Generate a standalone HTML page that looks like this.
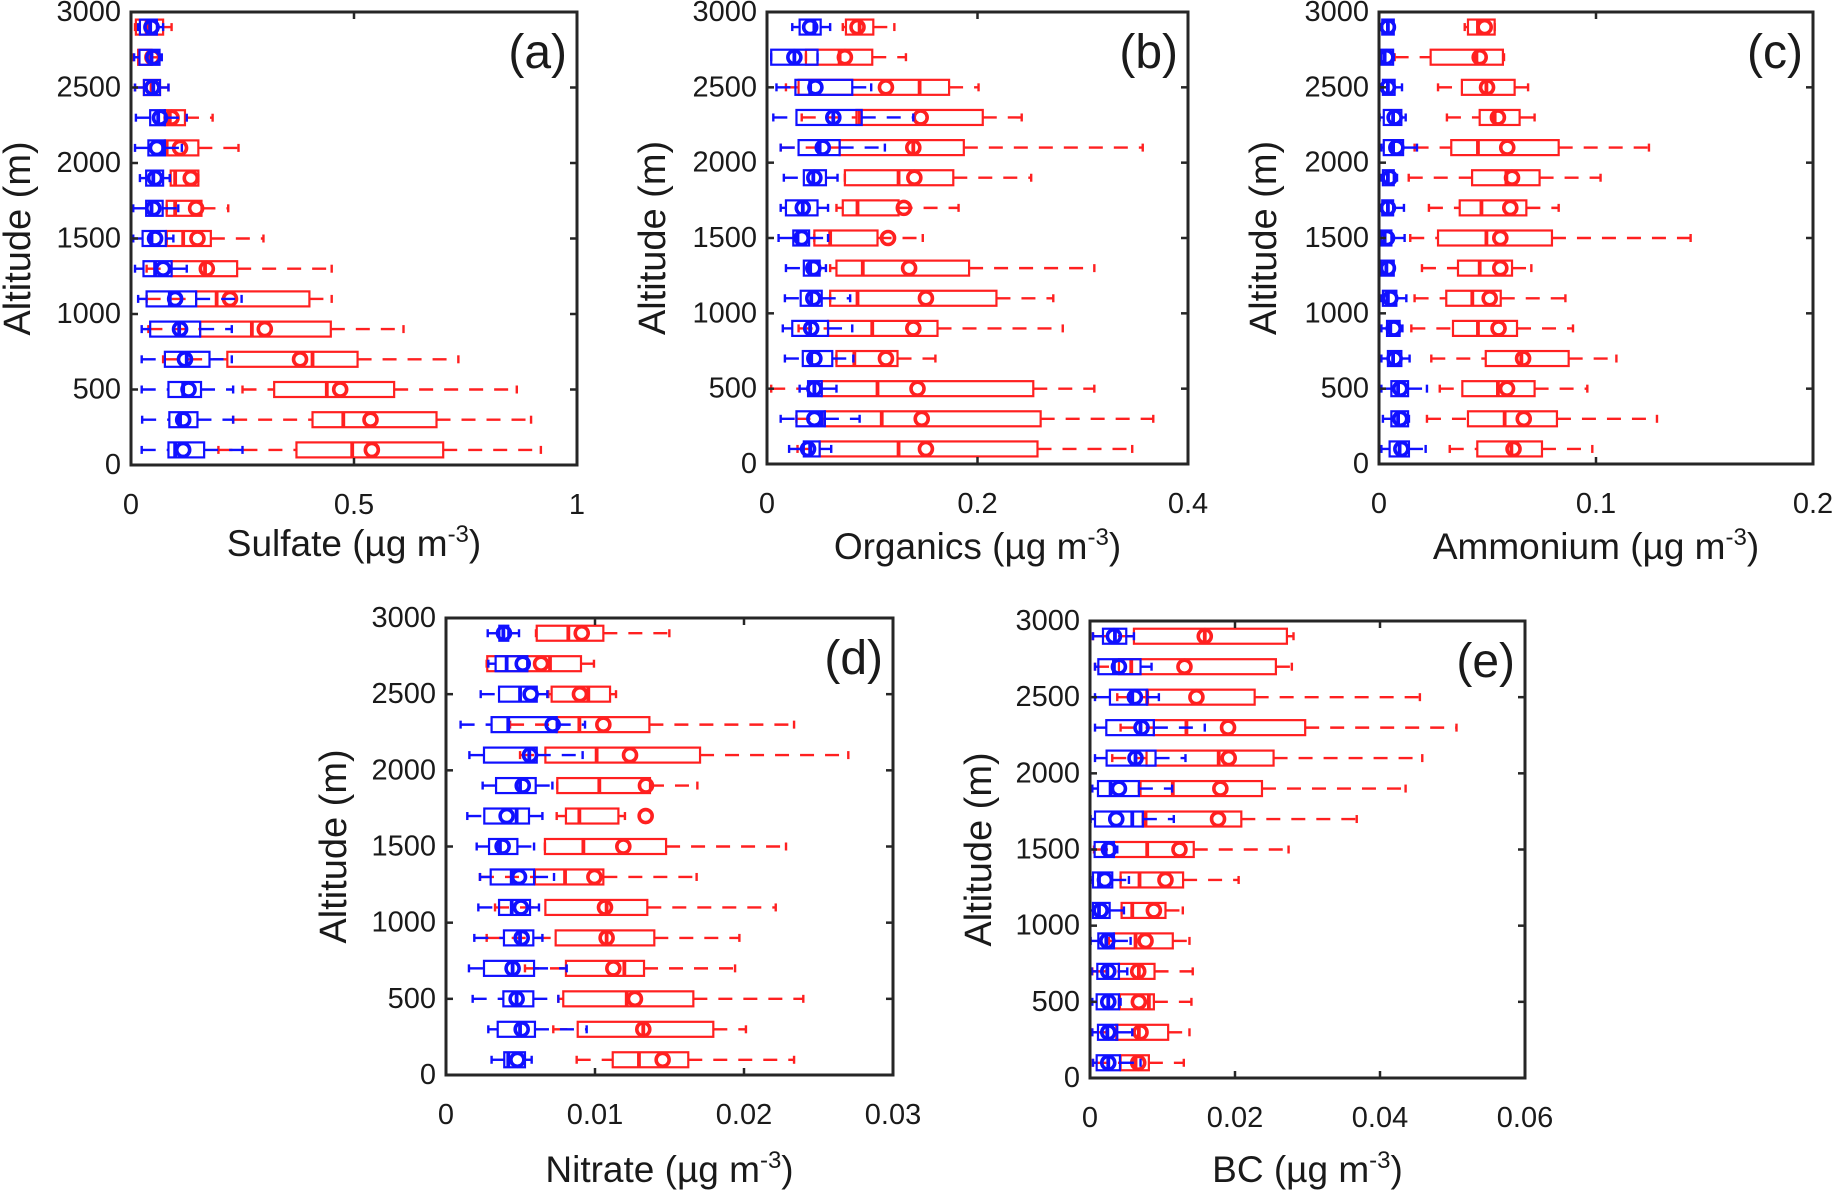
<!DOCTYPE html>
<html><head><meta charset="utf-8">
<style>
html,body{margin:0;padding:0;background:#fff;}
svg{display:block;}
text{font-family:"Liberation Sans",Arial,sans-serif;fill:#1a1a1a;}
</style></head>
<body>
<svg id="fig" width="1838" height="1190" viewBox="0 0 1838 1190" xmlns="http://www.w3.org/2000/svg"></svg>
<script>
// Altitude bins (m), bottom to top
const altitudes = [100,300,500,700,900,1100,1300,1500,1700,1900,2100,2300,2500,2700,2900];
const yTicks = [0,500,1000,1500,2000,2500,3000];
// each row: [whiskerLow, q1, median, q3, whiskerHigh, mean]
const sulfateBlue = [[0.024,0.084,0.099,0.164,0.250,0.117],[0.025,0.086,0.110,0.149,0.229,0.117],[0.024,0.084,0.117,0.157,0.229,0.129],[0.024,0.076,0.125,0.176,0.226,0.121],[0.024,0.043,0.108,0.155,0.226,0.110],[0.016,0.035,0.087,0.146,0.248,0.099],[0.009,0.028,0.054,0.091,0.125,0.072],[0.005,0.026,0.046,0.078,0.095,0.054],[0.005,0.034,0.046,0.071,0.106,0.050],[0.020,0.034,0.050,0.072,0.087,0.054],[0.009,0.039,0.072,0.076,0.114,0.058],[0.011,0.043,0.061,0.076,0.125,0.065],[0.009,0.029,0.050,0.065,0.084,0.048],[0.007,0.019,0.046,0.064,0.069,0.050],[0.016,0.020,0.043,0.058,0.072,0.046]];
const sulfateRed = [[0.196,0.371,0.496,0.700,0.919,0.540],[0.229,0.407,0.476,0.685,0.897,0.537],[0.250,0.321,0.439,0.590,0.865,0.469],[0.072,0.216,0.407,0.508,0.734,0.379],[0.039,0.155,0.271,0.448,0.611,0.300],[0.035,0.146,0.192,0.400,0.450,0.222],[0.035,0.091,0.166,0.238,0.450,0.170],[0.080,0.080,0.117,0.179,0.297,0.149],[0.080,0.080,0.099,0.158,0.218,0.146],[0.087,0.089,0.099,0.151,0.151,0.134],[0.072,0.076,0.080,0.151,0.241,0.110],[0.076,0.076,0.087,0.121,0.183,0.091],[0.009,0.029,0.046,0.065,0.084,0.048],[0.005,0.016,0.043,0.046,0.061,0.048],[0.009,0.011,0.035,0.072,0.091,0.046]];
const organicsBlue = [[0.021,0.035,0.041,0.050,0.061,0.039],[0.013,0.028,0.052,0.055,0.088,0.045],[0.031,0.039,0.045,0.052,0.066,0.045],[0.017,0.034,0.042,0.062,0.082,0.045],[0.015,0.024,0.041,0.058,0.081,0.042],[0.017,0.032,0.042,0.052,0.079,0.044],[0.018,0.035,0.041,0.050,0.056,0.044],[0.011,0.025,0.029,0.040,0.058,0.033],[0.013,0.018,0.034,0.048,0.058,0.034],[0.016,0.035,0.044,0.056,0.067,0.045],[0.013,0.030,0.050,0.069,0.112,0.053],[0.006,0.028,0.063,0.090,0.139,0.063],[0.009,0.027,0.041,0.081,0.099,0.046],[0.004,0.004,0.026,0.048,0.048,0.026],[0.024,0.031,0.045,0.051,0.060,0.041]];
const organicsRed = [[0.029,0.050,0.125,0.257,0.347,0.151],[0.028,0.055,0.109,0.260,0.367,0.147],[0.004,0.052,0.105,0.253,0.311,0.143],[0.066,0.066,0.083,0.124,0.160,0.113],[0.030,0.058,0.100,0.162,0.281,0.139],[0.060,0.060,0.086,0.218,0.272,0.151],[0.060,0.066,0.091,0.192,0.311,0.135],[0.045,0.045,0.060,0.105,0.148,0.115],[0.066,0.072,0.086,0.125,0.182,0.130],[0.074,0.074,0.125,0.177,0.251,0.140],[0.013,0.069,0.139,0.187,0.357,0.139],[0.033,0.085,0.088,0.205,0.242,0.146],[0.018,0.030,0.145,0.173,0.201,0.113],[0.037,0.037,0.069,0.100,0.132,0.074],[0.072,0.075,0.088,0.101,0.121,0.086]];
const ammoniumBlue = [[0.0011,0.0049,0.0095,0.0138,0.0215,0.0103],[0.0018,0.0057,0.0088,0.0134,0.0138,0.0098],[0.0011,0.0057,0.0088,0.0134,0.0221,0.0098],[0.0011,0.0041,0.0065,0.0103,0.0141,0.0072],[0.0011,0.0037,0.0052,0.0095,0.0108,0.0068],[0.0011,0.0018,0.0041,0.0080,0.0126,0.0052],[0.0003,0.0011,0.0034,0.0068,0.0068,0.0041],[0.0003,0.0011,0.0026,0.0057,0.0118,0.0037],[0.0011,0.0015,0.0041,0.0065,0.0115,0.0041],[0.0011,0.0018,0.0041,0.0068,0.0083,0.0049],[0.0011,0.0022,0.0065,0.0111,0.0175,0.0080],[0.0003,0.0022,0.0065,0.0103,0.0123,0.0072],[0.0011,0.0018,0.0041,0.0072,0.0106,0.0041],[0.0003,0.0011,0.0026,0.0065,0.0068,0.0034],[0.0011,0.0015,0.0041,0.0068,0.0068,0.0041]];
const ammoniumRed = [[0.0326,0.0453,0.0610,0.0751,0.0983,0.0620],[0.0221,0.0410,0.0579,0.0820,0.1281,0.0667],[0.0280,0.0384,0.0548,0.0717,0.0960,0.0590],[0.0241,0.0492,0.0656,0.0874,0.1094,0.0664],[0.0149,0.0341,0.0456,0.0636,0.0894,0.0551],[0.0164,0.0310,0.0430,0.0561,0.0859,0.0510],[0.0198,0.0364,0.0464,0.0613,0.0702,0.0559],[0.0144,0.0272,0.0495,0.0797,0.1436,0.0559],[0.0230,0.0372,0.0472,0.0679,0.0828,0.0605],[0.0137,0.0429,0.0587,0.0740,0.1021,0.0613],[0.0164,0.0333,0.0456,0.0828,0.1244,0.0591],[0.0313,0.0464,0.0533,0.0648,0.0717,0.0548],[0.0272,0.0382,0.0495,0.0625,0.0687,0.0498],[0.0072,0.0238,0.0449,0.0571,0.0576,0.0464],[0.0395,0.0410,0.0456,0.0533,0.0533,0.0487]];
const nitrateBlue = [[0.00306,0.00391,0.00418,0.00530,0.00575,0.00479],[0.00284,0.00347,0.00497,0.00597,0.00944,0.00508],[0.00179,0.00385,0.00474,0.00586,0.00754,0.00474],[0.00154,0.00255,0.00447,0.00591,0.00810,0.00447],[0.00190,0.00389,0.00497,0.00586,0.00647,0.00508],[0.00217,0.00356,0.00441,0.00564,0.00624,0.00503],[0.00228,0.00300,0.00441,0.00591,0.00725,0.00490],[0.00206,0.00289,0.00362,0.00479,0.00591,0.00380],[0.00143,0.00257,0.00474,0.00557,0.00647,0.00407],[0.00246,0.00336,0.00497,0.00602,0.00714,0.00515],[0.00157,0.00255,0.00559,0.00609,0.00917,0.00564],[0.00098,0.00306,0.00418,0.00743,0.00933,0.00716],[0.00233,0.00356,0.00497,0.00609,0.00680,0.00568],[0.00284,0.00333,0.00407,0.00546,0.00546,0.00515],[0.00280,0.00358,0.00385,0.00418,0.00490,0.00389]];
const nitrateRed = [[0.00877,0.01119,0.01295,0.01626,0.02336,0.01454],[0.00720,0.00884,0.01324,0.01794,0.02013,0.01324],[0.00754,0.00787,0.01213,0.01660,0.02398,0.01268],[0.00530,0.00805,0.01197,0.01329,0.01940,0.01123],[0.00273,0.00736,0.01078,0.01398,0.01969,0.01078],[0.00329,0.00667,0.01078,0.01351,0.02213,0.01067],[0.00228,0.00597,0.00799,0.01056,0.01682,0.00996],[0.00664,0.00664,0.00922,0.01477,0.02282,0.01190],[0.00743,0.00805,0.00895,0.01157,0.01201,0.01340],[0.00747,0.00747,0.01029,0.01369,0.01687,0.01342],[0.00497,0.00667,0.01011,0.01705,0.02700,0.01235],[0.00430,0.00743,0.00895,0.01365,0.02336,0.01056],[0.00687,0.00709,0.00955,0.01101,0.01141,0.00899],[0.00273,0.00277,0.00698,0.00906,0.00993,0.00638],[0.00604,0.00609,0.00821,0.01056,0.01499,0.00911]];
const bcBlue = [[0.00041,0.00092,0.00252,0.00413,0.00697,0.00252],[0.00032,0.00110,0.00239,0.00376,0.00583,0.00252],[0.00032,0.00092,0.00252,0.00399,0.00422,0.00252],[0.00023,0.00101,0.00239,0.00399,0.00514,0.00252],[0.00009,0.00115,0.00225,0.00330,0.00560,0.00239],[0,0.00041,0.00124,0.00271,0.00468,0.00147],[0.00009,0.00041,0.00124,0.00307,0.00537,0.00206],[0,0.00064,0.00216,0.00330,0.00376,0.00261],[0.00009,0.00069,0.00583,0.00729,0.01156,0.00362],[0.00032,0.00110,0.00284,0.00674,0.01133,0.00399],[0.00069,0.00229,0.00628,0.00904,0.01317,0.00628],[0.00069,0.00225,0.00697,0.00881,0.01583,0.00711],[0.00069,0.00275,0.00583,0.00789,0.00950,0.00619],[0.00069,0.00115,0.00330,0.00697,0.00849,0.00399],[0.00041,0.00179,0.00344,0.00500,0.00606,0.00330]];
const bcRed = [[0.00041,0.00422,0.00628,0.00812,0.01294,0.00665],[0.00032,0.00362,0.00674,0.01078,0.01372,0.00697],[0.00399,0.00413,0.00812,0.00881,0.01399,0.00674],[0.00032,0.00399,0.00674,0.00890,0.01417,0.00665],[0.00261,0.00330,0.00628,0.01142,0.01372,0.00766],[0.00436,0.00436,0.00583,0.01041,0.01280,0.00881],[0.00422,0.00422,0.00683,0.01284,0.02050,0.01041],[0.00055,0.00330,0.00789,0.01431,0.02739,0.01234],[0.00729,0.00729,0.00766,0.02087,0.03679,0.01766],[0.00674,0.00697,0.01142,0.02372,0.04353,0.01798],[0.00307,0.00780,0.01775,0.02532,0.04583,0.01913],[0.00422,0.00881,0.01330,0.02968,0.05055,0.01904],[0.00376,0.00789,0.00789,0.02271,0.04550,0.01468],[0.00069,0.00399,0.00569,0.02564,0.02784,0.01303],[0.00041,0.00606,0.01583,0.02716,0.02807,0.01583]];
const sulfateTicks = [0,0.5,1];
const sulfateTickLabels = ["0","0.5","1"];
const organicsTicks = [0,0.2,0.4];
const organicsTickLabels = ["0","0.2","0.4"];
const ammoniumTicks = [0,0.1,0.2];
const ammoniumTickLabels = ["0","0.1","0.2"];
const nitrateTicks = [0,0.01,0.02,0.03];
const nitrateTickLabels = ["0","0.01","0.02","0.03"];
const bcTicks = [0,0.02,0.04,0.06];
const bcTickLabels = ["0","0.02","0.04","0.06"];

const NS = "http://www.w3.org/2000/svg";
const svg = document.getElementById('fig');
function mk(tag, attrs, parent){ const e=document.createElementNS(NS,tag); for(const k in attrs) e.setAttribute(k,attrs[k]); (parent||svg).appendChild(e); return e; }

const panels = [
 {id:'sulfate', tag:'(a)', name:'Sulfate', x0:131,x1:577,y0:12,y1:465, xmax:1, ticks:sulfateTicks, labels:sulfateTickLabels, red:sulfateRed, blue:sulfateBlue, altX:18, titleY:556},
 {id:'organics', tag:'(b)', name:'Organics', x0:767,x1:1188,y0:12,y1:464, xmax:0.4, ticks:organicsTicks, labels:organicsTickLabels, red:organicsRed, blue:organicsBlue, altX:653, titleY:559},
 {id:'ammonium', tag:'(c)', name:'Ammonium', x0:1379,x1:1813,y0:12,y1:464, xmax:0.2, ticks:ammoniumTicks, labels:ammoniumTickLabels, red:ammoniumRed, blue:ammoniumBlue, altX:1264, titleY:559},
 {id:'nitrate', tag:'(d)', name:'Nitrate', x0:446,x1:893,y0:618,y1:1075, xmax:0.03, ticks:nitrateTicks, labels:nitrateTickLabels, red:nitrateRed, blue:nitrateBlue, altX:334, titleY:1182},
 {id:'bc', tag:'(e)', name:'BC', x0:1090,x1:1525,y0:621,y1:1078, xmax:0.06, ticks:bcTicks, labels:bcTickLabels, red:bcRed, blue:bcBlue, altX:979, titleY:1182}
];

function drawBox(g, s, yc, xs, color, label){
  const grp = mk('g',{}, g);
  
  
  const h=15, cap=8;
  const [lo,q1,med,q3,hi,mean]=s;
  mk('line',{x1:xs(lo),x2:xs(q1),y1:yc,y2:yc,stroke:color,'stroke-width':2.4,'stroke-dasharray':'14 11'},grp);
  mk('line',{x1:xs(q3),x2:xs(hi),y1:yc,y2:yc,stroke:color,'stroke-width':2.4,'stroke-dasharray':'14 11'},grp);
  mk('line',{x1:xs(lo),x2:xs(lo),y1:yc-cap/2,y2:yc+cap/2,stroke:color,'stroke-width':2.4},grp);
  mk('line',{x1:xs(hi),x2:xs(hi),y1:yc-cap/2,y2:yc+cap/2,stroke:color,'stroke-width':2.4},grp);
  mk('rect',{x:xs(q1),y:yc-h/2,width:Math.max(0.5,xs(q3)-xs(q1)),height:h,fill:'none',stroke:color,'stroke-width':2.2},grp);
  mk('line',{x1:xs(med),x2:xs(med),y1:yc-h/2,y2:yc+h/2,stroke:color,'stroke-width':3.8},grp);
  mk('circle',{cx:xs(mean),cy:yc,r:6.5,fill:'none',stroke:color,'stroke-width':3.6},grp);
}

panels.forEach(p=>{
  const g = mk('g',{});
  
  
  const xs = v => p.x0 + v/p.xmax*(p.x1-p.x0);
  const ys = a => p.y1 - a/3000*(p.y1-p.y0);
  altitudes.forEach((alt,i)=>{ drawBox(g, p.red[i], ys(alt), xs, '#ff2020', p.id+'-red-box-'+alt); });
  altitudes.forEach((alt,i)=>{ drawBox(g, p.blue[i], ys(alt), xs, '#1010ff', p.id+'-blue-box-'+alt); });
  const fr = mk('rect',{x:p.x0,y:p.y0,width:p.x1-p.x0,height:p.y1-p.y0,fill:'none',stroke:'#262626','stroke-width':3},g);
  
  
  yTicks.forEach(t=>{
    const y=ys(t);
    mk('line',{x1:p.x0,x2:p.x0+7,y1:y,y2:y,stroke:'#262626','stroke-width':2.5},g);
    mk('line',{x1:p.x1,x2:p.x1-7,y1:y,y2:y,stroke:'#262626','stroke-width':2.5},g);
    const tx = mk('text',{x:p.x0-10,y:y,'text-anchor':'end','dominant-baseline':'central','font-size':29},g);
    
    
    tx.textContent = String(t);
  });
  p.ticks.forEach((t,i)=>{
    const x=xs(t);
    mk('line',{x1:x,x2:x,y1:p.y1,y2:p.y1-7,stroke:'#262626','stroke-width':2.5},g);
    mk('line',{x1:x,x2:x,y1:p.y0,y2:p.y0+7,stroke:'#262626','stroke-width':2.5},g);
    const tx = mk('text',{x:x,y:p.y1+40,'text-anchor':'middle','dominant-baseline':'central','font-size':29},g);
    
    
    tx.textContent = p.labels[i];
  });
  const xt = mk('text',{x:(p.x0+p.x1)/2,y:p.titleY,'text-anchor':'middle','font-size':37},g);
  
  
  xt.appendChild(document.createTextNode(p.name+' (\u00b5g m'));
  const sup = mk('tspan',{dy:-14,'font-size':24},xt); sup.textContent='-3';
  const cl = mk('tspan',{dy:14},xt); cl.textContent=')';
  const yc=(p.y0+p.y1)/2;
  const yt = mk('text',{x:p.altX,y:yc,'text-anchor':'middle','dominant-baseline':'central','font-size':38,transform:'rotate(-90 '+p.altX+' '+yc+')'},g);
  
  
  yt.textContent='Altitude (m)';
  const tg = mk('text',{x:p.x1-10,y:p.y0+56,'text-anchor':'end','font-size':48},g);
  
  
  tg.textContent=p.tag;
});
</script>
</body></html>
